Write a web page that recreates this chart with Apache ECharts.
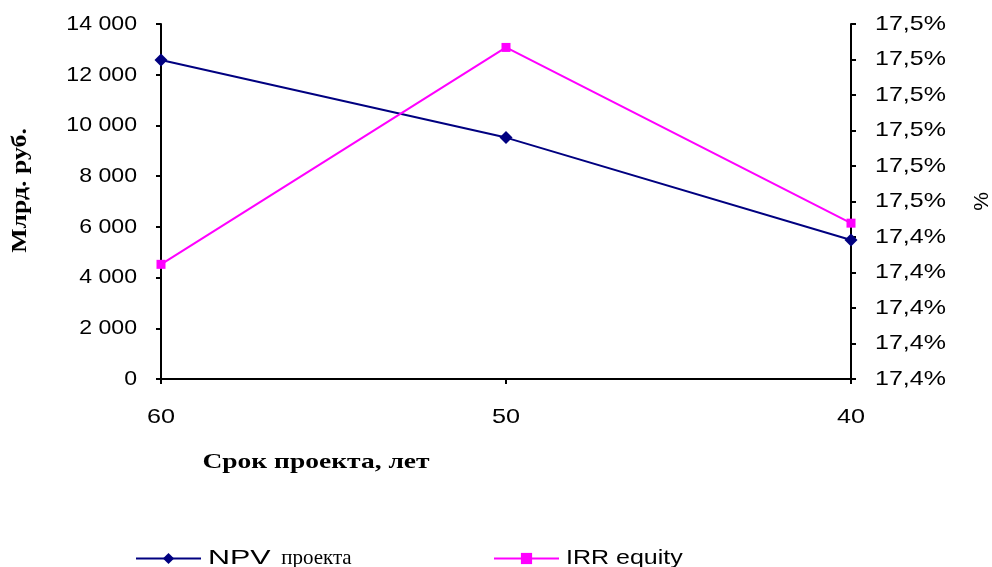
<!DOCTYPE html>
<html>
<head>
<meta charset="utf-8">
<script src="https://cdn.jsdelivr.net/npm/echarts@6/dist/echarts.min.js"></script>
<style>html,body{margin:0;padding:0;background:#fff;overflow:hidden}#c{width:992px;height:567px}</style>
</head>
<body>
<div id="c"></div>
<script>
const categories = ['60', '50', '40'];
const npvValues = [12580, 9520, 5480];
const irrValues = [17.4323, 17.4934, 17.4439];
const npvName = 'NPV проекта';
const irrName = 'IRR equity';
const xTitle = 'Срок проекта, лет';
const yLeftTitle = 'Млрд. руб.';
const yRightTitle = '%';

const SANS = '"Liberation Sans", Arial, sans-serif';
const SERIF = '"Liberation Serif", "Times New Roman", serif';

// Horizontal widening of text glyphs, as in the reference rendering
function widen(t) {
  t = String(t);
  if (t === xTitle) return 1.31;
  if (t === yLeftTitle) return 1.29;
  if (t === 'NPV') return 1.45;
  if (t === irrName) return 1.19;
  if (categories.indexOf(t) >= 0) return 1.2;
  if (/%$/.test(t) && t.length > 1) return 1.19;
  if (/^\d[\d ]*$/.test(t)) return 1.1;
  return 1;
}
(function () {
  const proto = CanvasRenderingContext2D.prototype;
  const orig = proto.fillText;
  proto.fillText = function (text, x, y, maxWidth) {
    const s = widen(text);
    if (s === 1) {
      return maxWidth === undefined ? orig.call(this, text, x, y) : orig.call(this, text, x, y, maxWidth);
    }
    this.save();
    this.translate(x, y);
    this.scale(s, 1);
    if (maxWidth === undefined) orig.call(this, text, 0, 0); else orig.call(this, text, 0, 0, maxWidth / s);
    this.restore();
  };
})();

const el = document.getElementById('c');
const chart = echarts.init(el, null, {renderer: 'canvas', width: 992, height: 567});
const axisLine = {show: true, lineStyle: {color: '#000', width: 2}};
const axisTick = {show: true, inside: false, length: 5, lineStyle: {color: '#000', width: 2}};

chart.setOption({
  animation: false,
  backgroundColor: '#fff',
  grid: {left: 161, right: 141, top: 24, bottom: 188, containLabel: false, outerBoundsMode: 'none'},
  xAxis: {
    type: 'category',
    data: categories,
    boundaryGap: false,
    axisLine: axisLine,
    axisTick: axisTick,
    axisLabel: {margin: 28, color: '#000', fontFamily: SANS, fontSize: 21},
    splitLine: {show: false},
    name: xTitle,
    nameLocation: 'middle',
    nameGap: 73,
    nameTextStyle: {fontFamily: SERIF, fontWeight: 'bold', fontSize: 21, color: '#000', padding: [0, 380, 0, 0]}
  },
  yAxis: [
    {
      type: 'value',
      min: 0, max: 14000, interval: 2000,
      position: 'left',
      axisLine: axisLine,
      axisTick: axisTick,
      splitLine: {show: false},
      axisLabel: {
        margin: 24, color: '#000', fontFamily: SANS, fontSize: 21,
        formatter: v => String(v).replace(/\B(?=(\d{3})+(?!\d))/g, ' ')
      },
      name: yLeftTitle,
      nameLocation: 'middle',
      nameRotate: 90,
      nameGap: 130,
      nameTextStyle: {fontFamily: SERIF, fontWeight: 'bold', fontSize: 20, color: '#000', padding: [0, 0, 0, 22]}
    },
    {
      type: 'value',
      min: 17.40, max: 17.50, interval: 0.01,
      position: 'right',
      axisLine: axisLine,
      axisTick: axisTick,
      splitLine: {show: false},
      axisLabel: {
        margin: 24, color: '#000', fontFamily: SANS, fontSize: 21,
        formatter: v => {
          const h = Math.round(v * 100);
          const t = Math.round(h / 10);
          return (t / 10).toFixed(1).replace('.', ',') + '%';
        }
      },
      name: yRightTitle,
      nameLocation: 'middle',
      nameRotate: 90,
      nameGap: 121,
      nameTextStyle: {fontFamily: SANS, fontSize: 21, color: '#000'}
    }
  ],
  legend: [
    {
      data: [npvName],
      left: 135, top: 548, padding: 0,
      itemWidth: 65, itemHeight: 14,
      formatter: () => '{s|NPV}{t|проекта}',
      textStyle: {
        padding: [0, 0, 0, 2],
        rich: {
          s: {fontFamily: SANS, fontSize: 21, color: '#000'},
          t: {fontFamily: SERIF, fontSize: 21, color: '#000', padding: [0, 0, 0, 30]}
        }
      }
    },
    {
      data: [irrName],
      left: 493, top: 548, padding: 0,
      itemWidth: 65, itemHeight: 14,
      textStyle: {fontFamily: SANS, fontSize: 21, color: '#000', padding: [0, 0, 0, 2]}
    }
  ],
  series: [
    {
      name: npvName,
      type: 'line',
      yAxisIndex: 0,
      data: npvValues,
      color: '#000080',
      lineStyle: {color: '#000080', width: 2},
      itemStyle: {color: '#000080'},
      symbol: 'diamond',
      symbolSize: 13,
      showAllSymbol: true
    },
    {
      name: irrName,
      type: 'line',
      yAxisIndex: 1,
      data: irrValues,
      color: '#FF00FF',
      lineStyle: {color: '#FF00FF', width: 2},
      itemStyle: {color: '#FF00FF'},
      symbol: 'rect',
      symbolSize: 9,
      showAllSymbol: true
    }
  ]
});
</script>
</body>
</html>
